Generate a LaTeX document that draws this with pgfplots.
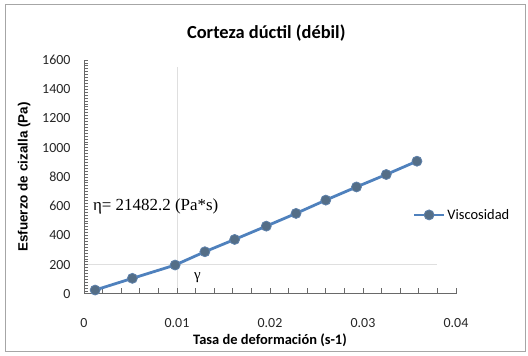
\documentclass[border=0pt]{standalone}
\usepackage{pgfplots}
\pgfplotsset{compat=1.18}
\usepackage{fontspec}
\setmainfont{Carlito}
\newfontfamily\arialfont{Liberation Sans}
\newfontfamily\timesfont{Liberation Serif}
\definecolor{xlblue}{RGB}{79,129,189}
\definecolor{mkfill}{RGB}{84,110,135}
\definecolor{axgray}{RGB}{105,105,105}
\begin{document}
\begin{tikzpicture}
\useasboundingbox (0bp,0bp) rectangle (528bp,356bp);
\draw[gray!70, line width=1bp] (5bp,4bp) rectangle (525bp,351bp);
\begin{axis}[
  at={(84bp,62bp)}, anchor=south west,
  scale only axis, width=372bp, height=234bp,
  xmin=0, xmax=0.04, ymin=0, ymax=1600,
  axis x line*=bottom, axis y line*=left,
  axis line style={axgray, line width=1bp},
  xtick={0,0.01,0.02,0.03,0.04},
  xticklabels={0,0.01,0.02,0.03,0.04},
  ytick={0,200,...,1600},
  yticklabels={0,200,400,600,800,1000,1200,1400,1600},
  major tick length=0pt,
  /pgf/number format/assume math mode=true,
  scaled x ticks=false,
  ticklabel style={font=\fontsize{14}{16}\selectfont, text=black!85},
  xticklabel style={yshift=-21bp},
  yticklabel style={xshift=-10bp},
  title={\textbf{Corteza dúctil (débil)}},
  title style={font=\fontsize{18.5}{20}\selectfont, at={(0.49,1)}, yshift=9bp},
  xlabel={\textbf{Tasa de deformación (s-1)}},
  xlabel style={font=\fontsize{14.5}{16}\selectfont, at={(axis description cs:0.5,0)}, anchor=center, yshift=-46bp},
  ylabel={\arialfont\bfseries Esfuerzo de cizalla (Pa)},
  ylabel style={font=\fontsize{13.5}{15}\selectfont, yshift=5bp},
  legend style={at={(0.875,0.338)}, anchor=west, draw=none, fill=none,
    font=\fontsize{14.5}{16}\selectfont, legend cell align=left},
  legend image code/.code={\draw[#1, mark repeat=2, mark phase=2] plot coordinates {(0bp,0bp) (15bp,0bp) (30bp,0bp)};},
  clip=false,
]
\draw[gray!25, line width=0.8bp] (axis cs:0,200) -- (axis cs:0.038,200);
\draw[gray!25, line width=0.8bp] (axis cs:0.01,0) -- (axis cs:0.01,1555);
\pgfplotsinvokeforeach{0.002,0.004,0.006,0.008,0.01,0.012,0.014,0.016,0.018,0.02,0.022,0.024,0.026,0.028,0.03,0.032,0.034,0.036,0.038,0.04}{
  \draw[axgray, line width=1bp] (axis cs:#1,0) -- ++(0bp,6bp);
}
\pgfplotsinvokeforeach{20,40,...,1600}{
  \draw[axgray, line width=0.7bp] (axis cs:0,#1) -- ++(4bp,0bp);
}
\addplot[color=xlblue, line width=2.8bp, mark=*, mark size=5bp,
  mark options={fill=mkfill, draw=xlblue!70!gray, line width=0.8bp}]
coordinates {
(0.0012,27) (0.0052,107) (0.0098,198) (0.0130,289) (0.0162,373)
(0.0196,464) (0.0228,551) (0.0260,642) (0.0293,732) (0.0325,817) (0.0358,908)
};
\addlegendentry{Viscosidad}
\node[anchor=west, font=\timesfont\fontsize{17}{18}\selectfont] at (axis cs:0.0006,600) {η= 21482.2 (Pa*s)};
\node[font=\timesfont\fontsize{15}{16}\selectfont] at (axis cs:0.0122,112) {γ};
\end{axis}
\end{tikzpicture}
\end{document}
